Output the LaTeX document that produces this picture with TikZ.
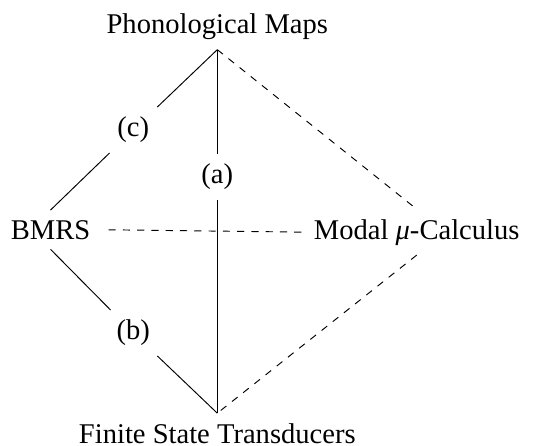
\documentclass[tikz,border=0pt]{standalone}
\usepackage{fontspec}
\setmainfont{Liberation Serif}
\begin{document}
\begin{tikzpicture}[x=0.42pt,y=-0.42pt,
  lbl/.style={font=\fontsize{12}{14.4}\selectfont, inner sep=4pt, anchor=base},
  mid/.style={font=\fontsize{12}{14.4}\selectfont, inner sep=4pt},
  link/.style={line width=0.4pt},
  weak/.style={line width=0.4pt, dashed}]
\useasboundingbox (0,0) rectangle (533,445);
\node[lbl] (pm) at (217.3,33.5) {Phonological Maps};
\node[lbl] (fst) at (217.3,443) {Finite State Transducers};
\node[lbl] (bmrs) at (50.5,239) {BMRS};
\node[lbl] (modal) at (416.7,239) {Modal {\itshape μ}-Calculus};
\node[mid] (c) at (133.3,130) {(c)};
\node[mid] (a) at (217.3,177) {(a)};
\node[mid] (b) at (133.3,333) {(b)};
\draw[link] (pm.south) -- (c);
\draw[link] (c) -- (bmrs.north);
\draw[link] (bmrs.south) -- (b);
\draw[link] (b) -- (fst.north);
\draw[link] (pm.south) -- (a);
\draw[link] (a) -- (fst.north);
\draw[weak] (pm.south) -- (modal.north);
\draw[weak] (modal.south) -- (fst.north);
\draw[weak, shorten <=3.5pt] (bmrs.east) -- (modal.west);
\end{tikzpicture}
\end{document}
